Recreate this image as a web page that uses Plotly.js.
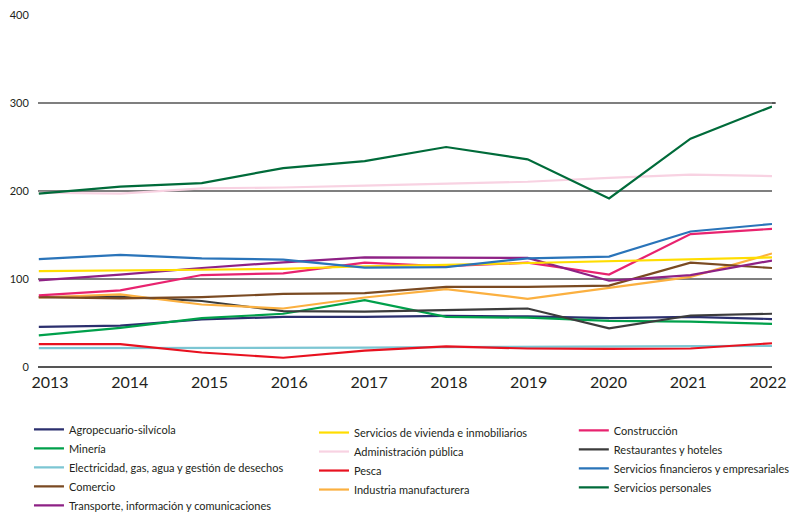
<!DOCTYPE html>
<html>
<head>
<meta charset="utf-8">
<script src="https://cdn.plot.ly/plotly-3.0.1.min.js"></script>
<style>html,body{margin:0;padding:0;background:#fff;}#chart{width:796px;height:514px;}</style>
</head>
<body>
<div id="chart"></div>
<script>
const years = [2013, 2014, 2015, 2016, 2017, 2018, 2019, 2020, 2021, 2022];
const yearLabels = ["2013", "2014", "2015", "2016", "2017", "2018", "2019", "2020", "2021", "2022"];
const yTicks = [0, 100, 200, 300, 400];

const agropecuario   = [45.5, 47, 54, 57, 57, 58, 57.5, 55.5, 57, 54.5];
const mineria        = [36, 44.5, 55.5, 60.5, 76, 57, 56, 52.5, 51.5, 49];
const electricidad   = [21.5, 21.5, 21.5, 21.5, 22, 22.5, 23, 23, 23.5, 24];
const comercio       = [79.5, 78, 79.5, 83, 84, 91, 91, 92.5, 118.5, 112.5];
const transporte     = [98.5, 105, 112.5, 119, 124.5, 124, 124, 98, 104.5, 121];
const vivienda       = [109, 109.5, 110.5, 111.5, 114.5, 116, 118, 120, 122, 124.5];
const administracion = [198, 197, 203, 204, 206, 208, 210.5, 215, 218.5, 217];
const pesca          = [26, 26, 16.5, 10.5, 18.5, 23.5, 21, 20.5, 21, 27];
const industria      = [79, 82.5, 71, 66.5, 79, 88.5, 77.5, 90, 102.5, 129];
const construccion   = [81.5, 87, 104.5, 106.5, 118.5, 114.5, 118.5, 105, 151, 157];
const restaurantes   = [79.5, 80, 75, 63.5, 63, 64.5, 66.5, 44, 58.5, 60.5];
const financieros    = [122.5, 127.5, 123.5, 122, 113, 113.5, 123.5, 125.5, 154, 162.5];
const personales     = [197, 205, 209, 226, 234, 250, 236, 191.5, 259.5, 296];

const seriesNames = [
  "Agropecuario-silvícola",
  "Minería",
  "Electricidad, gas, agua y gestión de desechos",
  "Comercio",
  "Transporte, información y comunicaciones",
  "Servicios de vivienda e inmobiliarios",
  "Administración pública",
  "Pesca",
  "Industria manufacturera",
  "Construcción",
  "Restaurantes y hoteles",
  "Servicios financieros y empresariales",
  "Servicios personales"
];
const seriesValues = [agropecuario, mineria, electricidad, comercio, transporte, vivienda,
  administracion, pesca, industria, construccion, restaurantes, financieros, personales];
const seriesColors = ["#2b2f6e", "#00a04b", "#7cc6d3", "#7a4a22", "#8e2185", "#ffdd00",
  "#f8d2e2", "#e8111f", "#fbb040", "#e8236f", "#3c3c3c", "#2a74b9", "#006b3a"];
const legendIds = ["legend","legend","legend","legend","legend","legend2","legend2","legend2","legend2","legend3","legend3","legend3","legend3"];

// draw order: light/background lines first
const drawOrder = [6, 2, 7, 0, 1, 10, 8, 3, 9, 4, 5, 11, 12];
const traces = [];
for (let k = 0; k < seriesNames.length; k++) {
  traces.push({
    x: years, y: seriesValues[k], name: seriesNames[k],
    type: "scatter", mode: "lines",
    line: {color: seriesColors[k], width: 2.2},
    legend: legendIds[k],
    legendrank: k,
    hoverinfo: "skip"
  });
}
const ordered = drawOrder.map(i => traces[i]);
// invisible carrier so the label axis is drawn
ordered.push({x: years, y: years.map(() => null), xaxis: "x2", yaxis: "y",
  type: "scatter", mode: "lines", showlegend: false, hoverinfo: "skip"});

const legendFont = {family: "Lato, 'Open Sans', sans-serif", size: 11, color: "#231f20"};
const legendBase = {orientation: "v", xanchor: "left", yanchor: "top", bgcolor: "rgba(0,0,0,0)",
  font: legendFont, traceorder: "normal", itemwidth: 30, tracegroupgap: 0};

const layout = {
  width: 796, height: 514,
  margin: {l: 38, r: 24, t: 15, b: 147, autoexpand: false},
  paper_bgcolor: "#fff", plot_bgcolor: "#fff",
  showlegend: true,
  font: {family: "Lato, 'Open Sans', sans-serif", color: "#231f20"},
  xaxis: {
    range: [2012.99, 2022.0], showticklabels: false,
    showgrid: false, zeroline: false, showline: false, ticks: ""
  },
  xaxis2: {
    overlaying: "x", anchor: "y", side: "bottom",
    range: [2012.85, 2022.05], tickvals: years, ticktext: yearLabels,
    showgrid: false, zeroline: false, showline: false,
    ticks: "outside", ticklen: 1, tickcolor: "rgba(0,0,0,0)",
    tickfont: {size: 16, color: "#231f20"}
  },
  yaxis: {
    range: [0, 400], tickvals: yTicks,
    showgrid: true, gridcolor: "#7f7f7f", gridwidth: 1.6,
    zeroline: true, zerolinecolor: "#555", zerolinewidth: 1.6,
    showline: false, ticks: "outside", ticklen: 6, tickcolor: "rgba(0,0,0,0)",
    tickfont: {size: 11, color: "#231f20"}
  },
  shapes: [{type: "line", xref: "paper", x0: 0, x1: 1.005, yref: "y", y0: 300, y1: 300,
    line: {color: "#1f1f1f", width: 1.6}, layer: "below"}],
  legend:  Object.assign({}, legendBase, {x: -0.0123, y: -0.136}),
  legend2: Object.assign({}, legendBase, {x: 0.376, y: -0.145}),
  legend3: Object.assign({}, legendBase, {x: 0.730, y: -0.139})
};

Plotly.newPlot("chart", ordered, layout, {staticPlot: true, displayModeBar: false});
</script>
</body>
</html>
